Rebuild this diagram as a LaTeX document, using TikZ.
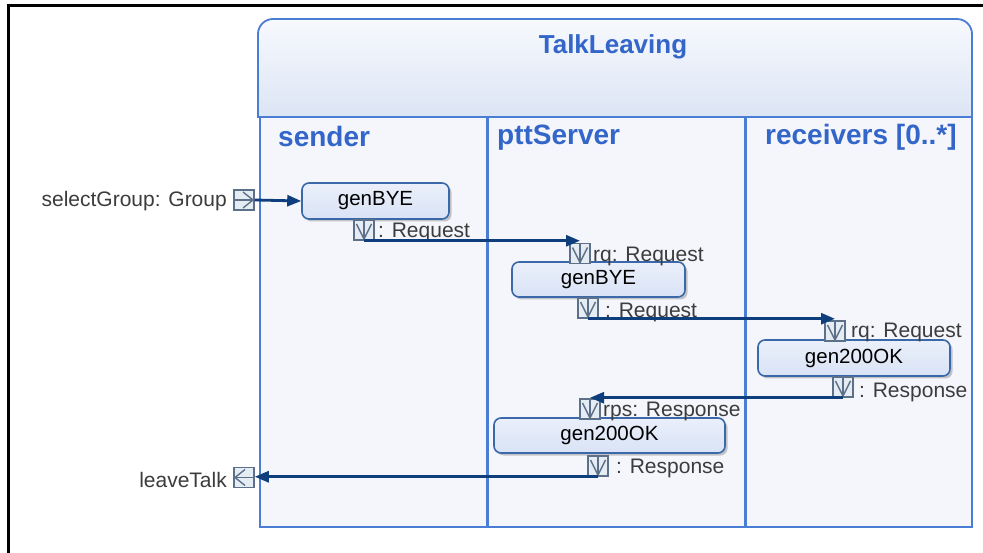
\documentclass[tikz,border=0pt]{standalone}
\usepackage{fontspec}
\setmainfont{Liberation Sans}
\usetikzlibrary{shadows,arrows.meta,calc}
\definecolor{lanec}{HTML}{4A7DD4}
\definecolor{titlec}{HTML}{3366C8}
\definecolor{lanefill}{HTML}{F4F6FC}
\definecolor{hdrtop}{HTML}{F7F9FD}
\definecolor{hdrbot}{HTML}{DCE5F5}
\definecolor{actfill}{HTML}{D9E3F6}
\definecolor{actdraw}{HTML}{3A68A8}
\definecolor{pinc}{HTML}{5C7189}
\definecolor{pinfill}{HTML}{E6ECF3}
\definecolor{edgec}{HTML}{0F3E7C}
\definecolor{lblc}{HTML}{3C3C3C}
\tikzset{
  lane/.style={draw=lanec, line width=1.8pt, fill=lanefill, anchor=north west, inner sep=0pt, outer sep=0pt},
  lanetitle/.style={text=titlec, font=\fontsize{28}{33}\selectfont\bfseries, anchor=base west, inner sep=0pt},
  action/.style={draw=actdraw, line width=1.6pt, top color=actfill!55!white, bottom color=actfill,
    rounded corners=7pt, inner sep=0pt, font=\fontsize{20.5}{24}\selectfont,
    drop shadow={shadow xshift=2.5pt, shadow yshift=-2.5pt, opacity=0.35, fill=black!60}},
  pinbox/.style={draw=pinc, fill=pinfill, line width=1.5pt, minimum size=20pt, inner sep=0pt},
  downpin/.style={pinbox, path picture={
    \draw[pinc, line width=1.4pt] (path picture bounding box.north) -- (path picture bounding box.south);
    \draw[pinc, line width=1.4pt] ([xshift=-7.5pt,yshift=6pt]path picture bounding box.center)
       -- ([yshift=-9pt]path picture bounding box.center)
       -- ([xshift=7.5pt,yshift=6pt]path picture bounding box.center);}},
  rightpin/.style={pinbox, path picture={
    \draw[pinc, line width=1.4pt] (path picture bounding box.west) -- (path picture bounding box.east);
    \draw[pinc, line width=1.4pt] ([xshift=-1pt,yshift=8pt]path picture bounding box.center)
       -- ([xshift=9pt]path picture bounding box.center)
       -- ([xshift=-1pt,yshift=-8pt]path picture bounding box.center);}},
  leftpin/.style={pinbox, path picture={
    \draw[pinc, line width=1.4pt] (path picture bounding box.west) -- (path picture bounding box.east);
    \draw[pinc, line width=1.4pt] ([xshift=1pt,yshift=8pt]path picture bounding box.center)
       -- ([xshift=-9pt]path picture bounding box.center)
       -- ([xshift=1pt,yshift=-8pt]path picture bounding box.center);}},
  plabel/.style={text=lblc, font=\fontsize{21}{25}\selectfont, inner sep=0pt, anchor=base west},
  edge/.style={draw=edgec, line width=2.8pt, -{Triangle[length=14pt,width=11pt]}}
}
\begin{document}
\begin{tikzpicture}[x=1pt,y=-1pt]
\useasboundingbox (0,0) rectangle (983,553);
\fill[white] (0,0) rectangle (983,553);
\draw[black, line width=2.5pt] (8.5,553) -- (8.5,5.5) -- (983,5.5);
% header
\path[draw=lanec, line width=1.8pt, top color=hdrtop, bottom color=hdrbot]
  (258,117) [rounded corners=15pt]-- (258,19) -- (972,19) [sharp corners]-- (972,117) -- cycle;
\node[text=titlec, font=\fontsize{26}{31}\selectfont\bfseries, anchor=base, inner sep=0pt] (title) at (613,54) {TalkLeaving};
% lanes
\node[lane, minimum width=227pt, minimum height=410pt] (sender) at (260,117) {};
\node[lane, minimum width=257pt, minimum height=410pt] (ptt) at (488,117) {};
\node[lane, minimum width=226pt, minimum height=410pt] (recv) at (746,117) {};
\node[lanetitle] (tsender) at (278,147) {sender};
\node[lanetitle] (tptt) at (497,145) {pttServer};
\node[lanetitle] (trecv) at (765,145) {receivers [0..*]};
% actions
\node[action, minimum width=147pt, minimum height=36pt] (b1) at (375.5,201) {genBYE};
\node[action, minimum width=173pt, minimum height=35pt] (b2) at (598.5,279.5) {genBYE};
\node[action, minimum width=192pt, minimum height=36pt] (ok1) at (854,358) {gen200OK};
\node[action, minimum width=231pt, minimum height=35pt] (ok2) at (609.5,435.5) {gen200OK};
% pins
\node[rightpin] (sg) at (244,200) {};
\node[leftpin] (lt) at (244,477.5) {};
\node[downpin] (p1o) at (364,230) {};
\node[downpin] (p2i) at (580,253.5) {};
\node[downpin] (p2o) at (588,308) {};
\node[downpin] (p3i) at (835,331) {};
\node[downpin] (p3o) at (843,387) {};
\node[downpin] (p4i) at (590,409) {};
\node[downpin] (p4o) at (598,466) {};
% labels
\node[plabel, anchor=base east] (lsg) at (227,207) {selectGroup: Group};
\node[plabel, anchor=base east] (llt) at (227,487) {leaveTalk};
\node[plabel] (l1) at (378,238) {: Request};
\node[plabel] (l2) at (593,262) {rq: Request};
\node[plabel] (l3) at (605,318) {: Request};
\node[plabel] (l4) at (851,338) {rq: Request};
\node[plabel] (l5) at (859,397) {: Response};
\node[plabel] (l6) at (603,417) {rps: Response};
\node[plabel] (l7) at (616,473) {: Response};
% edges
\draw[edge] (sg.east) -- (b1.west);
\draw[edge] (p1o.south) -- (p1o.south -| p2i.north);
\draw[edge] (p2o.south) -- (p2o.south -| p3i.north);
\draw[edge] (p3o.south) -- (p3o.south -| p4i.north);
\draw[edge] (p4o.south) -- (p4o.south -| lt.east);
\end{tikzpicture}
\end{document}
